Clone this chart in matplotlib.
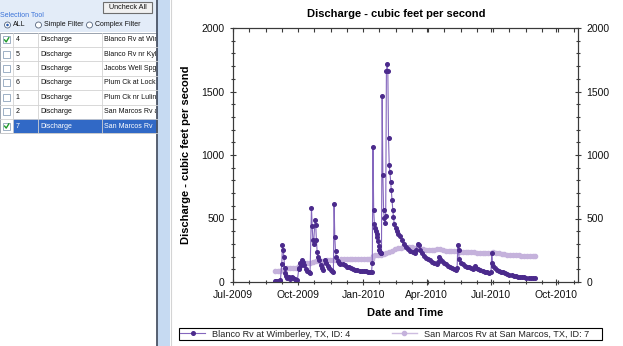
import matplotlib
matplotlib.use("Agg")
import matplotlib.pyplot as plt
import matplotlib.dates as mdates
from matplotlib.ticker import MultipleLocator, AutoMinorLocator
from matplotlib.patches import Rectangle, Circle
import pandas as pd

plt.rcParams['font.family'] = ['Liberation Sans', 'DejaVu Sans']

# ---- site selection table ----
site_ids = ["4", "5", "3", "6", "1", "2", "7"]
site_params = ["Discharge"] * 7
site_names = ["Blanco Rv at Wimberley", "Blanco Rv nr Kyle",
              "Jacobs Well Spgs", "Plum Ck at Lockhart",
              "Plum Ck nr Luling", "San Marcos Rv at Luling",
              "San Marcos Rv"]
site_checked = [True, False, False, False, False, False, True]
selected_row = 6

# ---- discharge series (cfs) ----
blanco_dates = [
    "2009-08-29", "2009-08-31", "2009-09-02", "2009-09-04", "2009-09-06",
    "2009-09-08", "2009-09-09", "2009-09-10", "2009-09-11", "2009-09-12",
    "2009-09-13", "2009-09-14", "2009-09-16", "2009-09-18", "2009-09-20",
    "2009-09-22", "2009-09-24", "2009-09-26", "2009-09-28", "2009-09-30",
    "2009-10-02", "2009-10-03", "2009-10-04", "2009-10-05", "2009-10-07",
    "2009-10-08", "2009-10-10", "2009-10-12", "2009-10-14", "2009-10-16",
    "2009-10-18", "2009-10-20", "2009-10-21", "2009-10-22", "2009-10-23",
    "2009-10-25", "2009-10-26", "2009-10-27", "2009-10-28", "2009-10-29",
    "2009-10-31", "2009-11-02", "2009-11-04", "2009-11-06", "2009-11-08",
    "2009-11-10", "2009-11-12", "2009-11-14", "2009-11-16", "2009-11-18",
    "2009-11-20", "2009-11-21", "2009-11-22", "2009-11-23", "2009-11-24",
    "2009-11-26", "2009-11-28", "2009-11-30", "2009-12-03", "2009-12-06",
    "2009-12-09", "2009-12-12", "2009-12-15", "2009-12-18", "2009-12-21",
    "2009-12-24", "2009-12-27", "2009-12-30", "2010-01-02", "2010-01-05",
    "2010-01-08", "2010-01-11", "2010-01-13", "2010-01-14", "2010-01-15",
    "2010-01-16", "2010-01-17", "2010-01-18", "2010-01-19", "2010-01-20",
    "2010-01-21", "2010-01-22", "2010-01-23", "2010-01-24", "2010-01-25",
    "2010-01-26", "2010-01-27", "2010-01-28", "2010-01-29", "2010-01-30",
    "2010-01-31", "2010-02-01", "2010-02-02", "2010-02-03", "2010-02-04",
    "2010-02-05", "2010-02-06", "2010-02-07", "2010-02-08", "2010-02-09",
    "2010-02-10", "2010-02-11", "2010-02-12", "2010-02-13", "2010-02-14",
    "2010-02-16", "2010-02-18", "2010-02-20", "2010-02-22", "2010-02-25",
    "2010-02-28", "2010-03-03", "2010-03-06", "2010-03-09", "2010-03-12",
    "2010-03-15", "2010-03-17", "2010-03-19", "2010-03-21", "2010-03-23",
    "2010-03-25", "2010-03-28", "2010-03-31", "2010-04-03", "2010-04-06",
    "2010-04-09", "2010-04-12", "2010-04-15", "2010-04-17", "2010-04-18",
    "2010-04-20", "2010-04-22", "2010-04-25", "2010-04-28", "2010-05-01",
    "2010-05-04", "2010-05-07", "2010-05-10", "2010-05-13", "2010-05-14",
    "2010-05-15", "2010-05-16", "2010-05-17", "2010-05-19", "2010-05-22",
    "2010-05-25", "2010-05-28", "2010-05-31", "2010-06-03", "2010-06-06",
    "2010-06-08", "2010-06-10", "2010-06-13", "2010-06-16", "2010-06-19",
    "2010-06-22", "2010-06-25", "2010-06-28", "2010-07-01", "2010-07-02",
    "2010-07-03", "2010-07-04", "2010-07-06", "2010-07-09", "2010-07-12",
    "2010-07-15", "2010-07-18", "2010-07-21", "2010-07-24", "2010-07-27",
    "2010-07-30", "2010-08-02", "2010-08-05", "2010-08-08", "2010-08-11",
    "2010-08-14", "2010-08-17", "2010-08-20", "2010-08-23", "2010-08-26",
    "2010-08-29", "2010-09-01",
]
blanco_cfs = [
    10, 10, 10, 11, 12,
    140, 295, 255, 200, 110,
    70, 48, 32, 38, 25,
    38, 28, 22, 16, 14,
    100, 112, 148, 135, 175,
    160, 130, 105, 88, 76,
    70, 585, 440, 330, 300,
    490, 450, 330, 240, 200,
    170, 135, 112, 98, 172,
    150, 128, 110, 96, 86,
    82, 615, 355, 245, 200,
    165, 152, 145, 138, 130,
    122, 115, 108, 102, 97,
    93, 90, 87, 85, 83,
    81, 79, 80, 150, 1060,
    565, 460, 425, 400, 375,
    355, 320, 280, 255, 240,
    225, 230, 1465, 840, 565,
    505, 465, 520, 1660, 1720,
    1660, 1130, 920, 865, 790,
    725, 645, 570, 515, 460,
    425, 400, 380, 360, 330,
    300, 275, 258, 248, 235,
    228, 250, 300, 290, 255,
    228, 208, 192, 180, 170,
    160, 152, 145, 160, 200,
    185, 165, 152, 140, 128,
    118, 110, 102, 96, 110,
    290, 250, 180, 150, 138,
    128, 121, 115, 108, 104,
    128, 112, 100, 92, 86,
    80, 76, 72, 78, 230,
    150, 128, 108, 95, 88,
    82, 77, 70, 63, 58,
    53, 50, 46, 43, 40,
    38, 36, 35, 34, 33,
    32, 31,
]

sanmarcos_dates = [
    "2009-08-29", "2009-09-02", "2009-09-06", "2009-09-09", "2009-09-12",
    "2009-09-16", "2009-09-20", "2009-09-24", "2009-09-28", "2009-10-02",
    "2009-10-06", "2009-10-10", "2009-10-14", "2009-10-18", "2009-10-22",
    "2009-10-26", "2009-10-30", "2009-11-03", "2009-11-07", "2009-11-11",
    "2009-11-15", "2009-11-19", "2009-11-23", "2009-11-27", "2009-12-01",
    "2009-12-05", "2009-12-09", "2009-12-13", "2009-12-17", "2009-12-21",
    "2009-12-25", "2009-12-29", "2010-01-02", "2010-01-06", "2010-01-10",
    "2010-01-14", "2010-01-15", "2010-01-18", "2010-01-22", "2010-01-26",
    "2010-01-30", "2010-02-03", "2010-02-07", "2010-02-11", "2010-02-15",
    "2010-02-19", "2010-02-23", "2010-02-27", "2010-03-03", "2010-03-07",
    "2010-03-11", "2010-03-15", "2010-03-19", "2010-03-23", "2010-03-27",
    "2010-03-31", "2010-04-04", "2010-04-08", "2010-04-12", "2010-04-16",
    "2010-04-20", "2010-04-24", "2010-04-28", "2010-05-02", "2010-05-06",
    "2010-05-10", "2010-05-14", "2010-05-18", "2010-05-22", "2010-05-26",
    "2010-05-30", "2010-06-03", "2010-06-07", "2010-06-11", "2010-06-15",
    "2010-06-19", "2010-06-23", "2010-06-27", "2010-07-01", "2010-07-04",
    "2010-07-08", "2010-07-12", "2010-07-16", "2010-07-20", "2010-07-24",
    "2010-07-28", "2010-08-01", "2010-08-05", "2010-08-09", "2010-08-13",
    "2010-08-17", "2010-08-21", "2010-08-25", "2010-08-29", "2010-09-01",
]
sanmarcos_cfs = [
    85, 86, 88, 95, 105,
    108, 110, 112, 114, 125,
    135, 142, 148, 152, 158,
    162, 165, 166, 168, 170,
    172, 174, 176, 177, 178,
    179, 180, 181, 182, 182,
    183, 183, 184, 184, 184,
    185, 205, 210, 212, 215,
    220, 228, 238, 248, 258,
    265, 270, 273, 275, 276,
    274, 270, 266, 262, 258,
    255, 252, 252, 254, 262,
    260, 252, 248, 245, 243,
    241, 242, 240, 238, 236,
    235, 234, 233, 232, 231,
    230, 230, 229, 230, 236,
    228, 225, 222, 219, 216,
    214, 212, 210, 209, 208,
    207, 206, 205, 204, 203,
]

blanco_label = "Blanco Rv at Wimberley, TX, ID: 4"
sanmarcos_label = "San Marcos Rv at San Marcos, TX, ID: 7"

W, H = 623, 346
fig = plt.figure(figsize=(W / 100, H / 100), dpi=100)
fig.patch.set_facecolor("white")

# ---- left selection panel, laid out in pixel units ----
ui = fig.add_axes([0, 0, 1, 1])
ui.set_xlim(0, W)
ui.set_ylim(H, 0)
ui.axis("off")

ui.add_patch(Rectangle((0, 0), 157, H, fc="white", ec="none"))
ui.add_patch(Rectangle((0, 0), 157, 32, fc="#e3ecf8", ec="none"))
ui.add_patch(Rectangle((157, 0), 13, H, fc="#c6daf2", ec="none"))
ui.plot([157, 157], [0, H], color="#4a5466", lw=1.3)
ui.plot([170.5, 170.5], [0, H], color="#d4d4d4", lw=0.8)

# button
ui.add_patch(Rectangle((103, 1.5), 49, 11.5, fc="#f1f1f1", ec="#6e6e6e", lw=0.8))
ui.text(127.5, 7.4, "Uncheck All", ha="center", va="center", fontsize=5.2, color="#111")

ui.text(0.5, 15.5, "Selection Tool", ha="left", va="center", fontsize=5, color="#3b73d9")
radio = [(7.5, "ALL", True), (38.5, "Simple Filter", False), (89.5, "Complex Filter", False)]
for cx, lab, on in radio:
    ui.add_patch(Circle((cx, 25), 3.0, fc="white", ec="#56657c", lw=0.6))
    if on:
        ui.add_patch(Circle((cx, 25), 1.3, fc="#2a5db0", ec="none"))
    ui.text(cx + 5.5, 25, lab, ha="left", va="center", fontsize=5, color="#111")

top, rh = 32.7, 14.37
n = len(site_ids)
bottom = top + rh * n
name_clip = Rectangle((103, top), 53, rh * n, transform=ui.transData)
for i in range(n):
    y0 = top + rh * i
    yc = y0 + rh / 2
    sel = (i == selected_row)
    if sel:
        ui.add_patch(Rectangle((13, y0), 144, rh, fc="#3169c6", ec="none"))
    ui.plot([0, 157], [y0 + rh, y0 + rh], color="#d2d2d2", lw=0.6)
    ui.add_patch(Rectangle((3, yc - 3.5), 7, 7, fc="white", ec="#8ea3bc", lw=0.6))
    if site_checked[i]:
        ui.plot([4.6, 6.2, 8.8], [yc, yc + 2.0, yc - 2.2], color="#1f9a2a", lw=1.0)
    tc = "white" if sel else "#111"
    ui.text(15.5, yc, site_ids[i], ha="left", va="center", fontsize=5, color=tc)
    ui.text(40, yc, site_params[i], ha="left", va="center", fontsize=5, color=tc)
    t = ui.text(104, yc, site_names[i], ha="left", va="center", fontsize=5, color=tc)
    t.set_clip_on(True)
    t.set_clip_path(name_clip)
for xv in (13, 37.5, 102):
    ui.plot([xv, xv], [top, bottom], color="#d2d2d2", lw=0.6)
ui.add_patch(Rectangle((0.3, top), 156.5, rh * n, fc="none", ec="#9aa3ae", lw=0.7))

# legend frame spans the chart panel width
ui.add_patch(Rectangle((179, 328), 423, 11.5, fc="white", ec="black", lw=0.8))

# ---- discharge chart ----
ax = fig.add_axes([233 / W, 64 / H, 345 / W, 254 / H])
bd = pd.to_datetime(blanco_dates)
sd = pd.to_datetime(sanmarcos_dates)

sm_line, = ax.plot(sd, sanmarcos_cfs, color="#cdbce0", lw=1.0, marker="o", ms=3.0,
                   mfc="#c5b2dc", mec="#c5b2dc", zorder=2)
bl_line, = ax.plot(bd, blanco_cfs, color="#8466bd", lw=0.8, marker="o", ms=2.6,
                   mfc="#4b2a8c", mec="#4b2a8c", zorder=3)

ax.set_xlim(pd.Timestamp("2009-07-01"), pd.Timestamp("2010-11-01"))
ax.set_ylim(0, 2000)
ax.xaxis.set_major_locator(mdates.MonthLocator(bymonth=[1, 4, 7, 10]))
ax.xaxis.set_major_formatter(mdates.DateFormatter("%b-%Y"))
ax.xaxis.set_minor_locator(AutoMinorLocator(4))
ax.yaxis.set_major_locator(MultipleLocator(500))
ax.yaxis.set_minor_locator(MultipleLocator(100))

ax2 = ax.twinx()
ax2.set_ylim(0, 2000)
ax2.yaxis.set_major_locator(MultipleLocator(500))
ax2.yaxis.set_minor_locator(MultipleLocator(100))

for a in (ax, ax2):
    for s in a.spines.values():
        s.set_linewidth(0.8)
        s.set_color("#3a3a3a")

ax.tick_params(axis="both", which="major", direction="inout", length=5, width=0.8,
               color="#3a3a3a", labelsize=7.5, labelcolor="#111")
ax.tick_params(axis="both", which="minor", direction="inout", length=3, width=0.8,
               color="#3a3a3a")
ax.tick_params(axis="x", which="both", top=False)
ax.tick_params(axis="y", which="both", right=False)
ax2.tick_params(axis="y", which="major", direction="inout", length=5, width=0.8,
                color="#3a3a3a", labelsize=7.5, labelcolor="#111")
ax2.tick_params(axis="y", which="minor", direction="inout", length=3, width=0.8,
                color="#3a3a3a")
ax2.xaxis.set_visible(True)
ax2.tick_params(axis="x", which="both", bottom=False, top=True, labelbottom=False,
                labeltop=False, direction="in", length=3, width=0.8, color="#3a3a3a")

fig.text(396.5 / W, 1 - 14 / H, "Discharge - cubic feet per second", ha="center",
         va="center", fontsize=8, fontweight="bold")
fig.text(186 / W, 1 - 155 / H, "Discharge - cubic feet per second", ha="center",
         va="center", rotation=90, fontsize=8, fontweight="bold")
fig.text(405 / W, 1 - 313 / H, "Date and Time", ha="center", va="center",
         fontsize=8, fontweight="bold")

leg = fig.legend([bl_line, sm_line], [blanco_label, sanmarcos_label], loc="upper left",
                 bbox_to_anchor=(179 / W, 1 - 328.3 / H), ncol=2, fontsize=6.6,
                 frameon=False, borderpad=0.15, handlelength=2.7, handletextpad=0.75,
                 borderaxespad=0, columnspacing=4.55)
for t in leg.get_texts():
    t.set_color("#222")

fig.savefig("out.png", dpi=100)
